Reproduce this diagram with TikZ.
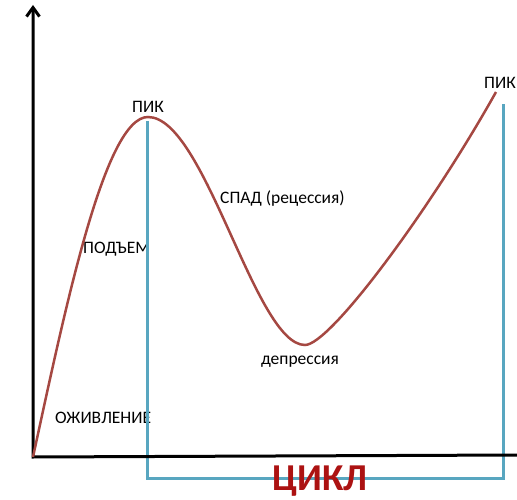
\documentclass[tikz,border=0pt]{standalone}
\usepackage{fontspec}
\setmainfont{Carlito}
\usetikzlibrary{positioning,arrows.meta}
\definecolor{curveRed}{RGB}{165,72,66}
\definecolor{cycleBlue}{RGB}{88,166,192}
\definecolor{titleRed}{RGB}{172,18,18}
\tikzset{
  axis/.style={line width=3pt, -{Straight Barb[length=9pt,width=13pt]}},
  wave/.style={curveRed, line width=2.5pt},
  cycleLine/.style={cycleBlue, line width=3pt},
  phase/.style={inner sep=0pt, font=\fontsize{17.5}{21}\selectfont},
  title/.style={inner sep=0pt, text=titleRed, font=\fontsize{38}{44}\selectfont\bfseries}
}

\begin{document}
\begin{tikzpicture}[x=1pt, y=-1pt]
  \useasboundingbox (0,0) rectangle (517,500);
  % points of the wave
  \coordinate (origin) at (33,457);
  \coordinate (peak1) at (148,117);
  \coordinate (trough) at (305,345);
  \coordinate (peak2) at (496,92);
  % labels
  \node [phase, above=4pt of peak1] (pik1) {ПИК};
  \node [phase, above=3pt of peak2, xshift=4pt] (pik2) {ПИК};
  \node [phase, anchor=base west] (spad) at (220,204) {СПАД (рецессия)};
  \node [phase, anchor=base west] (podem) at (83,253) {ПОДЪЕМ};
  \node [phase, anchor=base west] (ozhiv) at (55,423) {ОЖИВЛЕНИЕ};
  \node [phase, anchor=base] (depr) at (300,364) {депрессия};
  % the cycle bracket
  \coordinate (cycStart) at (147,121);
  \coordinate (cycBase) at (503,478);
  \coordinate (cycEnd) at (503,104);
  \draw [cycleLine] (cycStart) |- (cycBase) -- (cycEnd);
  \node [title, anchor=base] (cikl) at (320,490) {ЦИКЛ};
  % axes
  \draw [axis] (517,455) -- (origin) -- (33,5);
  % the wave
  \draw [wave] (origin) .. controls (66,305) and (105,117) .. (peak1)
    .. controls (205,117) and (255,345) .. (trough)
    .. controls (330,345) and (430,210) .. (peak2);
\end{tikzpicture}
\end{document}
